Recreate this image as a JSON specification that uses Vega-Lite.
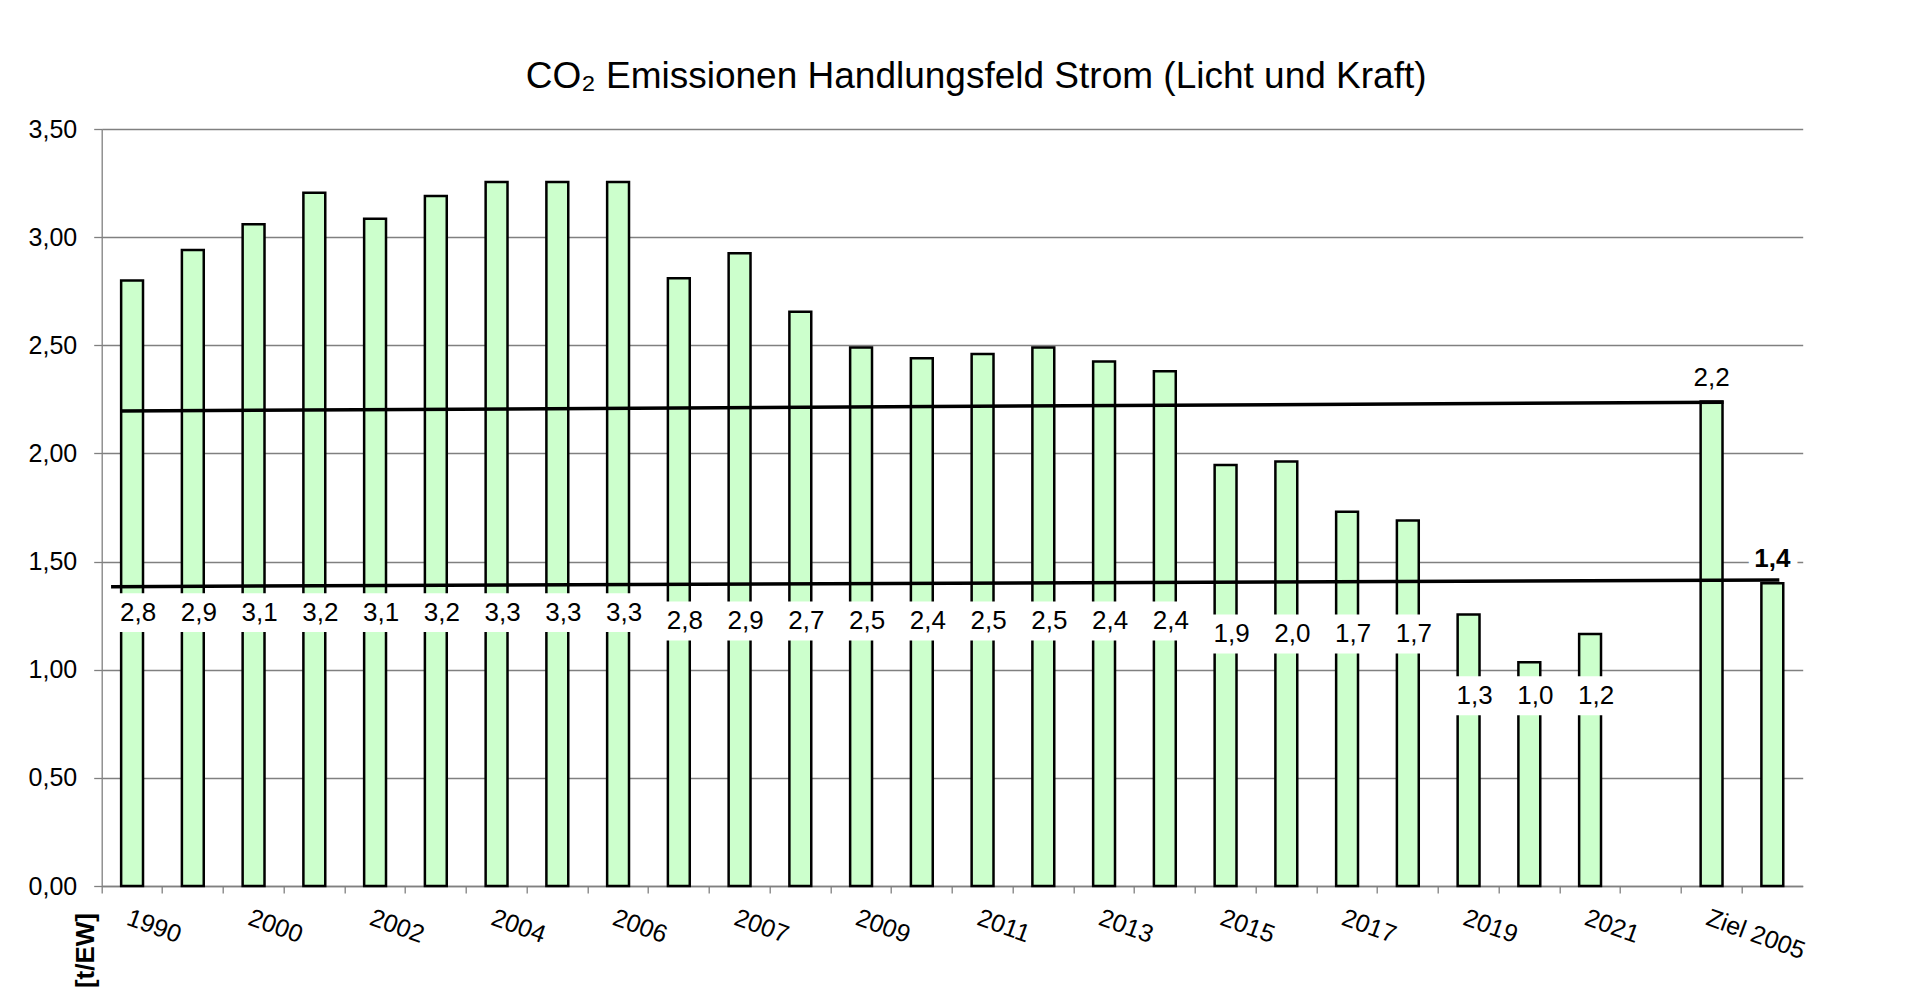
{
  "$schema": "https://vega.github.io/schema/vega-lite/v6.json",
  "width": 1701,
  "height": 757,
  "autosize": {"type": "none"},
  "padding": {"left": 101.7, "top": 129, "right": 116.3, "bottom": 112},
  "background": "white",
  "config": {
    "locale": {"number": {"decimal": ",", "thousands": ".", "grouping": [3], "currency": ["", " €"]}},
    "font": "Liberation Sans",
    "view": {"stroke": null}
  },
  "title": {
    "text": "CO₂ Emissionen Handlungsfeld Strom (Licht und Kraft)",
    "font": "Liberation Sans",
    "fontSize": 37,
    "fontWeight": "normal",
    "color": "black",
    "anchor": "middle",
    "baseline": "alphabetic",
    "offset": 29,
    "dx": 24,
    "dy": 37
  },
  "datasets": {
    "co2": [
      {"jahr": "1990", "wert": 2.80},
      {"jahr": "1995", "wert": 2.94},
      {"jahr": "2000", "wert": 3.06},
      {"jahr": "2001", "wert": 3.205},
      {"jahr": "2002", "wert": 3.085},
      {"jahr": "2003", "wert": 3.19},
      {"jahr": "2004", "wert": 3.255},
      {"jahr": "2005", "wert": 3.255},
      {"jahr": "2006", "wert": 3.255},
      {"jahr": "2006*", "wert": 2.81},
      {"jahr": "2007", "wert": 2.925},
      {"jahr": "2008", "wert": 2.655},
      {"jahr": "2009", "wert": 2.49},
      {"jahr": "2010", "wert": 2.44},
      {"jahr": "2011", "wert": 2.46},
      {"jahr": "2012", "wert": 2.49},
      {"jahr": "2013", "wert": 2.425},
      {"jahr": "2014", "wert": 2.38},
      {"jahr": "2015", "wert": 1.946},
      {"jahr": "2016", "wert": 1.963},
      {"jahr": "2017", "wert": 1.73},
      {"jahr": "2018", "wert": 1.69},
      {"jahr": "2019", "wert": 1.255},
      {"jahr": "2020", "wert": 1.035},
      {"jahr": "2021", "wert": 1.165},
      {"jahr": " ", "wert": null},
      {"jahr": "Ziel 2005", "wert": 2.24},
      {"jahr": "Ziel 2030", "wert": 1.40}
    ],
    "ziel": [
      {"linie": "Ziel 2,2", "jahr": "1990", "bis": "Ziel 2005", "y_von": 2.196, "y_bis": 2.237},
      {"linie": "Ziel 1,4", "jahr": "1990", "bis": "Ziel 2030", "y_von": 1.384, "y_bis": 1.415}
    ]
  },
  "data": {"name": "co2"},
  "encoding": {
    "x": {
      "field": "jahr",
      "type": "nominal",
      "scale": {
        "domain": ["1990","1995","2000","2001","2002","2003","2004","2005","2006","2006*","2007","2008","2009","2010","2011","2012","2013","2014","2015","2016","2017","2018","2019","2020","2021"," ","Ziel 2005","Ziel 2030"],
        "paddingInner": 0,
        "paddingOuter": 0
      },
      "axis": {
        "title": null,
        "grid": false,
        "bandPosition": 0,
        "labelAngle": 20,
        "labelAlign": "left",
        "labelBaseline": "top",
        "labelFontSize": 25,
        "labelFont": "Liberation Sans",
        "labelColor": "black",
        "labelPadding": 12,
        "labelOverlap": false,
        "labelExpr": "indexof(['1990','2000','2002','2004','2006','2007','2009','2011','2013','2015','2017','2019','2021','Ziel 2005'], datum.value) >= 0 ? datum.value : ''",
        "tickSize": 7,
        "tickColor": "#808080",
        "tickWidth": 1.3,
        "domainColor": "#808080",
        "domainWidth": 1.3
      }
    }
  },
  "layer": [
    {
      "mark": {"type": "bar", "fill": "#CCFFCC", "stroke": "black", "strokeWidth": 2.5, "width": {"band": 0.36}},
      "encoding": {
        "y": {
          "field": "wert",
          "type": "quantitative",
          "scale": {"domain": [0, 3.5], "nice": false, "zero": true},
          "axis": {
            "title": "[t/EW]",
            "titleFont": "Liberation Sans",
            "titleFontSize": 26,
            "titleFontWeight": "bold",
            "titleColor": "black",
            "titleAngle": -90,
            "titleX": -16.7,
            "titleY": 821,
            "titleAlign": "center",
            "titleBaseline": "middle",
            "values": [0, 0.5, 1, 1.5, 2, 2.5, 3, 3.5],
            "format": ".2f",
            "labelFont": "Liberation Sans",
            "labelFontSize": 25,
            "labelColor": "black",
            "labelPadding": 17,
            "tickSize": 8,
            "tickColor": "#808080",
            "tickWidth": 1.3,
            "grid": true,
            "gridColor": "#808080",
            "gridWidth": 1.3,
            "domainColor": "#808080",
            "domainWidth": 1.3
          }
        }
      }
    },
    {
      "transform": [{"filter": {"field": "jahr", "oneOf": ["1990","1995","2000","2001","2002","2003","2004","2005","2006"]}}],
      "layer": [
        {"mark": {"type": "bar", "fill": "white", "width": 56, "xOffset": 6}, "encoding": {"y": {"datum": 1.354}, "y2": {"datum": 1.174}}},
        {"mark": {"type": "text", "fontSize": 26, "dx": 6, "baseline": "middle", "color": "black"}, "encoding": {"y": {"datum": 1.264}, "text": {"field": "wert", "type": "quantitative", "format": ".1f"}}}
      ]
    },
    {
      "transform": [{"filter": {"field": "jahr", "oneOf": ["2006*","2007","2008","2009","2010","2011","2012","2013","2014"]}}],
      "layer": [
        {"mark": {"type": "bar", "fill": "white", "width": 56, "xOffset": 6}, "encoding": {"y": {"datum": 1.315}, "y2": {"datum": 1.135}}},
        {"mark": {"type": "text", "fontSize": 26, "dx": 6, "baseline": "middle", "color": "black"}, "encoding": {"y": {"datum": 1.225}, "text": {"field": "wert", "type": "quantitative", "format": ".1f"}}}
      ]
    },
    {
      "transform": [{"filter": {"field": "jahr", "oneOf": ["2015","2016","2017","2018"]}}],
      "layer": [
        {"mark": {"type": "bar", "fill": "white", "width": 56, "xOffset": 6}, "encoding": {"y": {"datum": 1.255}, "y2": {"datum": 1.075}}},
        {"mark": {"type": "text", "fontSize": 26, "dx": 6, "baseline": "middle", "color": "black"}, "encoding": {"y": {"datum": 1.165}, "text": {"field": "wert", "type": "quantitative", "format": ".1f"}}}
      ]
    },
    {
      "transform": [{"filter": {"field": "jahr", "oneOf": ["2019","2020","2021"]}}],
      "layer": [
        {"mark": {"type": "bar", "fill": "white", "width": 56, "xOffset": 6}, "encoding": {"y": {"datum": 0.97}, "y2": {"datum": 0.79}}},
        {"mark": {"type": "text", "fontSize": 26, "dx": 6, "baseline": "middle", "color": "black"}, "encoding": {"y": {"datum": 0.88}, "text": {"field": "wert", "type": "quantitative", "format": ".1f"}}}
      ]
    },
    {
      "transform": [{"filter": {"field": "jahr", "equal": "Ziel 2005"}}],
      "mark": {"type": "text", "fontSize": 26, "baseline": "alphabetic", "dy": -16, "color": "black"},
      "encoding": {"y": {"field": "wert", "type": "quantitative"}, "text": {"field": "wert", "type": "quantitative", "format": ".1f"}}
    },
    {
      "transform": [{"filter": {"field": "jahr", "equal": "Ziel 2030"}}],
      "layer": [
        {"mark": {"type": "text", "fontSize": 26, "fontWeight": "bold", "baseline": "alphabetic", "dy": -16, "fill": "white", "stroke": "white", "strokeWidth": 14}, "encoding": {"y": {"field": "wert", "type": "quantitative"}, "text": {"field": "wert", "type": "quantitative", "format": ".1f"}}},
        {"mark": {"type": "text", "fontSize": 26, "fontWeight": "bold", "baseline": "alphabetic", "dy": -16, "color": "black"}, "encoding": {"y": {"field": "wert", "type": "quantitative"}, "text": {"field": "wert", "type": "quantitative", "format": ".1f"}}}
      ]
    },
    {
      "data": {"name": "ziel"},
      "transform": [{"filter": {"field": "linie", "equal": "Ziel 2,2"}}],
      "mark": {"type": "rule", "stroke": "black", "strokeWidth": 3.5, "xOffset": -12, "x2Offset": 12},
      "encoding": {"x2": {"field": "bis"}, "y": {"field": "y_von", "type": "quantitative"}, "y2": {"field": "y_bis"}}
    },
    {
      "data": {"name": "ziel"},
      "transform": [{"filter": {"field": "linie", "equal": "Ziel 1,4"}}],
      "mark": {"type": "rule", "stroke": "black", "strokeWidth": 3.5, "xOffset": -21, "x2Offset": 7},
      "encoding": {"x2": {"field": "bis"}, "y": {"field": "y_von", "type": "quantitative"}, "y2": {"field": "y_bis"}}
    }
  ]
}
